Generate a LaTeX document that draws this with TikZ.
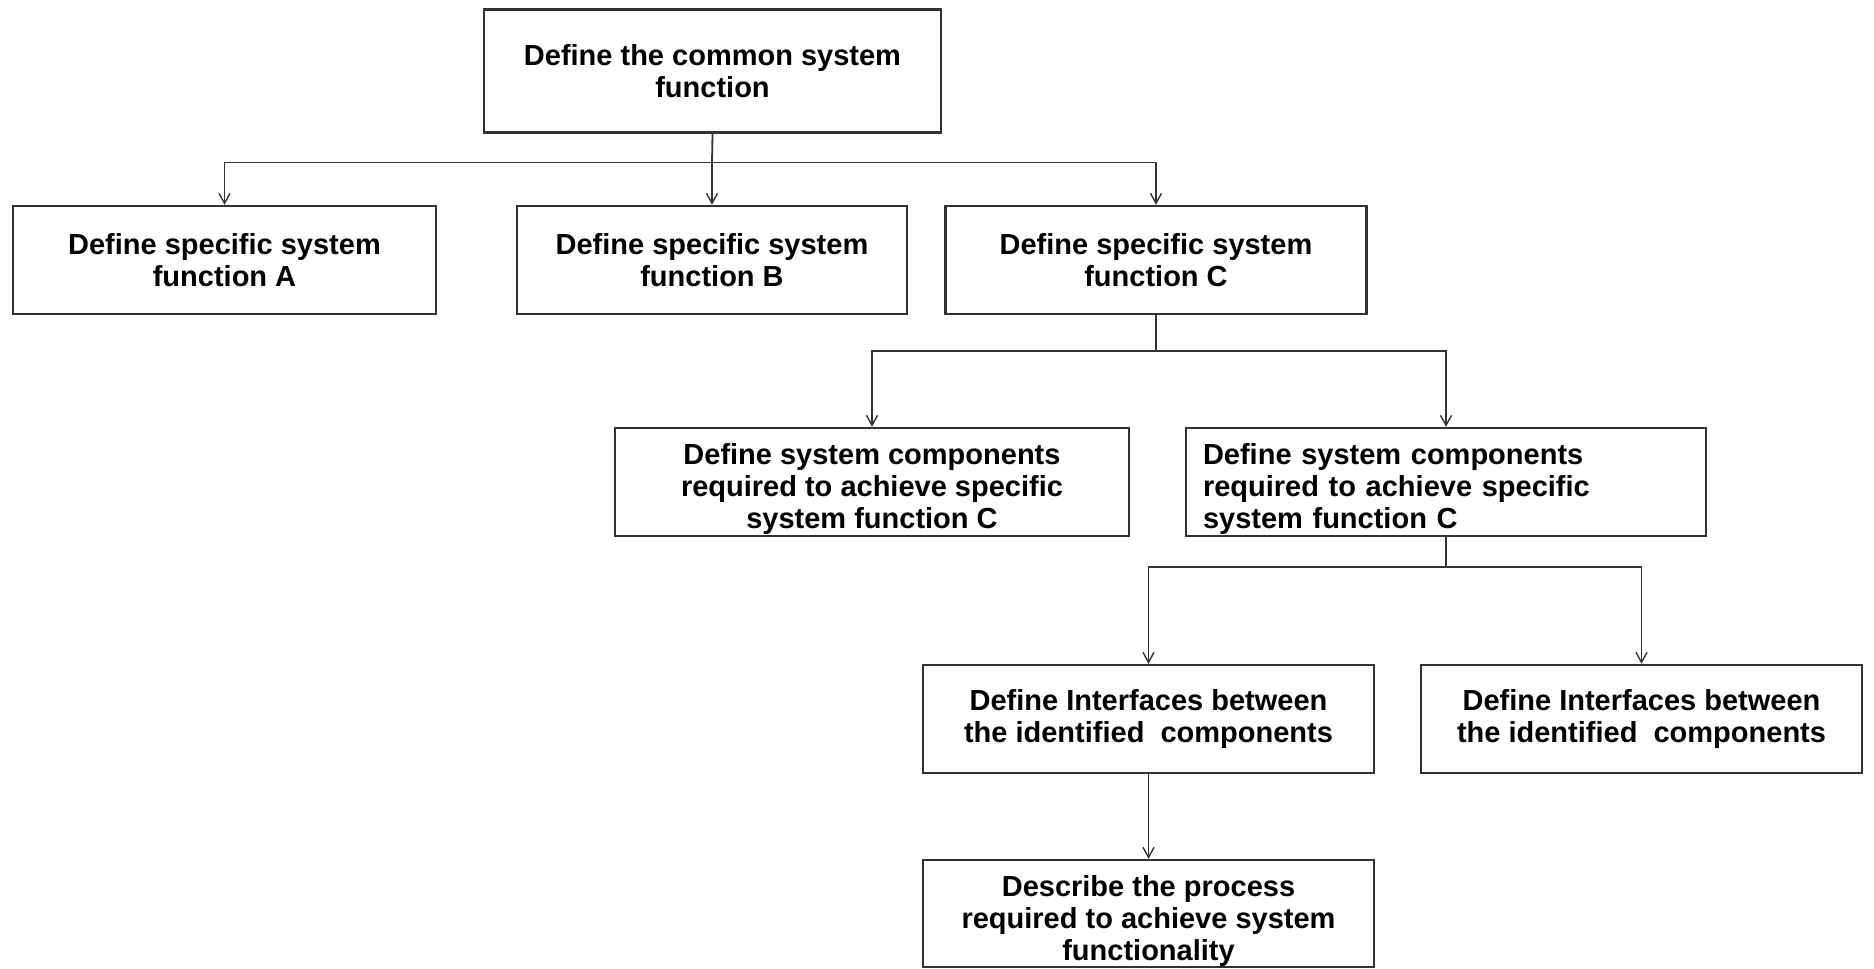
\documentclass[tikz,border=0pt]{standalone}
\usepackage{fontspec}
\setmainfont{Liberation Sans}
\usetikzlibrary{arrows.meta}

\newcommand{\topstrut}{\rule{0pt}{17.5pt}}

\tikzset{
  funcbox/.style={draw=black!80, line width=1.2pt, fill=white, inner sep=0pt,
    minimum height=54pt, align=center,
    font=\fontsize{14.5}{16}\selectfont\bfseries},
  wire/.style={draw=black!80, line width=0.9pt},
  link/.style={wire, -{Straight Barb[length=5pt, width=5.5pt, line width=0.7pt]}},
}

\begin{document}
\begin{tikzpicture}[x=0.5pt,y=-0.5pt]
\useasboundingbox (0,0) rectangle (1874,969);

%Top level
\node [funcbox, minimum width=228.5pt, minimum height=61.5pt] (top) at (712.5,71) {Define the common system\\function};

%Specific functions
\node [funcbox, minimum width=211.5pt] (fa) at (224.5,260) {Define specific system\\function A};
\node [funcbox, minimum width=195pt] (fb) at (712,260) {Define specific system\\function B};
\node [funcbox, minimum width=210.5pt] (fc) at (1156,260) {Define specific system\\function C};

%Components
\node [funcbox, minimum width=257pt] (comp1) at (872,482) {\topstrut Define system components\\required to achieve specific\\system function C};
\node [funcbox, minimum width=260pt, text width=243pt, align=left] (comp2) at (1446,482) {\topstrut Define system components\\required to achieve specific\\system function C};

%Interfaces
\node [funcbox, minimum width=225.5pt] (intf1) at (1148.5,719) {Define Interfaces between\\the identified~~components};
\node [funcbox, minimum width=220.5pt] (intf2) at (1641.5,719) {Define Interfaces between\\the identified~~components};

%Process
\node [funcbox, minimum width=225.5pt, minimum height=53.5pt] (proc) at (1148.5,913.5) {\topstrut Describe the process\\required to achieve system\\functionality};

%Junctions
\coordinate (bus1) at (712,162.5);
\coordinate (bus2) at (1156,351);
\coordinate (bus3) at (1446,567);

\draw [wire] (top.south) -- (bus1);
\draw [link] (bus1) -| (fa.north);
\draw [link] (bus1) -- (fb.north);
\draw [link] (bus1) -| (fc.north);

\draw [wire] (fc.south) -- (bus2);
\draw [link] (bus2) -| (comp1.north);
\draw [link] (bus2) -| (comp2.north);

\draw [wire] (comp2.south) -- (bus3);
\draw [link] (bus3) -| (intf1.north);
\draw [link] (bus3) -| (intf2.north);

\draw [link] (intf1.south) -- (proc.north);

\end{tikzpicture}
\end{document}
